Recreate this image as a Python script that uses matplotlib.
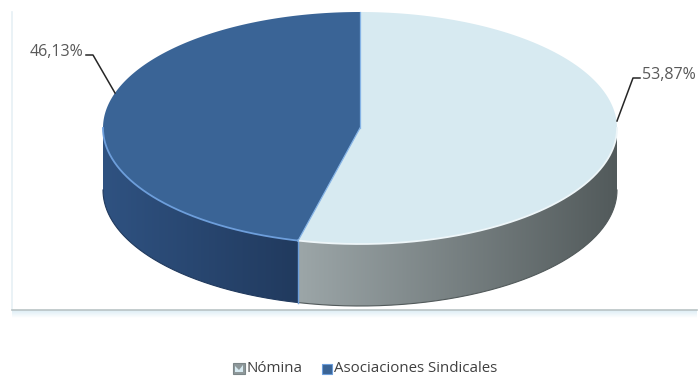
import numpy as np
import matplotlib
matplotlib.use("Agg")
import matplotlib.pyplot as plt
from matplotlib.patches import Polygon, Rectangle
from matplotlib.colors import LinearSegmentedColormap

plt.rcParams['font.family'] = ['Open Sans', 'DejaVu Sans']

# Data
categories = ["Nómina", "Asociaciones Sindicales"]
values = [53.87, 46.13]
labels = ["53,87%", "46,13%"]

# Styling
top_colors = ["#d7eaf1", "#3a6496"]
side_grad = [("#9ca6a8", "#525a5b"), ("#2f5281", "#213a5e")]
rim_colors = ["#eef6f9", "#6d9edb"]

W, H = 698, 377
fig = plt.figure(figsize=(W / 100, H / 100), dpi=100)
ax = fig.add_axes([0, 0, 1, 1])
ax.set_xlim(0, W)
ax.set_ylim(H, 0)
ax.axis("off")

# Plot-area frame with soft shadow under the bottom edge
ax.plot([12, 12], [12, 309], color="#e6f0f5", lw=1.2, zorder=1)
shadow = np.linspace(1, 0, 32).reshape(-1, 1)
ax.imshow(shadow, extent=(12, 697, 318, 310), aspect="auto", zorder=1,
          cmap=LinearSegmentedColormap.from_list("sh", ["#ffffff", "#dcedf5"]),
          vmin=0, vmax=1)
ax.plot([12, 697], [309.5, 309.5], color="#b9c3c5", lw=1.2, zorder=2)

# Pie geometry (pixel space)
cx, cy, rx, ry, depth = 360, 128, 257, 116, 62


def pt(theta_deg, dy=0.0):
    t = np.radians(theta_deg)
    return cx + rx * np.cos(t), cy - ry * np.sin(t) + dy


# slice angle ranges: first slice clockwise from 90°, second counter-clockwise
total = sum(values)
spans = [v / total * 360 for v in values]
ranges = [(90 - spans[0], 90), (90, 90 + spans[1])]  # Nómina, Asociaciones


def norm_range(a0, a1):
    a0m = a0 % 360
    return a0m, a0m + (a1 - a0)


# Side walls (front half: 180°..360°)
for i, (a0, a1) in enumerate(ranges):
    a0, a1 = norm_range(a0, a1)
    s0, s1 = max(a0, 180), min(a1, 360)
    if s1 <= s0:
        continue
    th = np.linspace(s0, s1, 200)
    xs, ys = pt(th)
    xb, yb = pt(th[::-1], depth)
    verts = np.column_stack([np.r_[xs, xb], np.r_[ys, yb]])
    poly = Polygon(verts, closed=True, facecolor="none", edgecolor="none")
    ax.add_patch(poly)
    xmin, xmax = verts[:, 0].min(), verts[:, 0].max()
    ymin, ymax = verts[:, 1].min(), verts[:, 1].max()
    cmap = LinearSegmentedColormap.from_list("g%d" % i, side_grad[i])
    grad = np.linspace(0, 1, 256).reshape(1, -1)
    im = ax.imshow(grad, extent=(xmin, xmax, ymax, ymin), aspect="auto",
                   cmap=cmap, zorder=3)
    im.set_clip_path(poly)
    ax.plot(xb, yb, color=side_grad[i][1], lw=0.8, zorder=3.5)

# Vertical seam between the two side walls
sx, sy = pt(ranges[0][0])
ax.plot([sx, sx], [sy, sy + depth], color="#6d9edb", lw=1.0, zorder=4)

# Top faces
for i, (a0, a1) in enumerate(ranges):
    th = np.linspace(a0, a1, 300)
    xs, ys = pt(th)
    verts = np.column_stack([np.r_[cx, xs], np.r_[cy, ys]])
    ax.add_patch(Polygon(verts, closed=True, facecolor=top_colors[i],
                         edgecolor="none", zorder=5))
    a0n, a1n = norm_range(a0, a1)
    f0, f1 = max(a0n, 180), min(a1n, 360)
    if f1 > f0:
        tf = np.linspace(f0, f1, 200)
        ax.plot(*pt(tf), color=rim_colors[i], lw=1.3, zorder=6)

# Radial seams on the top
for ang in (90, ranges[0][0]):
    ex, ey = pt(ang)
    ax.plot([cx, ex], [cy, ey], color="#86b4e6", lw=0.9, zorder=6)

# Data labels with leader lines
lab_col = "#595959"
ax.plot([617, 633, 640], [121, 78, 78], color="#262626", lw=1.1, zorder=7)
ax.text(642, 75, labels[0], fontsize=11.5, color=lab_col, ha="left",
        va="center", zorder=7)
ax.plot([115, 93, 86], [93, 55, 55], color="#262626", lw=1.1, zorder=7)
ax.text(83, 52, labels[1], fontsize=11.5, color=lab_col, ha="right",
        va="center", zorder=7)

# Legend
ly = 369
ax.add_patch(Rectangle((233, 363), 12, 11, facecolor="#8e989a",
                       edgecolor="#7c8688", lw=0.8, zorder=7))
ax.add_patch(Polygon([[235, 372], [235, 366], [239, 370], [243, 365], [243, 372]],
                     closed=True, facecolor="#d7eaf1", edgecolor="none", zorder=8))
ax.text(247, ly, categories[0], fontsize=10.8, color="#404040", ha="left",
        va="center", zorder=7)
ax.add_patch(Rectangle((322, 364), 10, 10, facecolor="#3a6496",
                       edgecolor="#6d9edb", lw=0.8, zorder=7))
ax.text(334, ly, categories[1], fontsize=10.8, color="#404040", ha="left",
        va="center", zorder=7)

fig.savefig("out.png", dpi=100)
